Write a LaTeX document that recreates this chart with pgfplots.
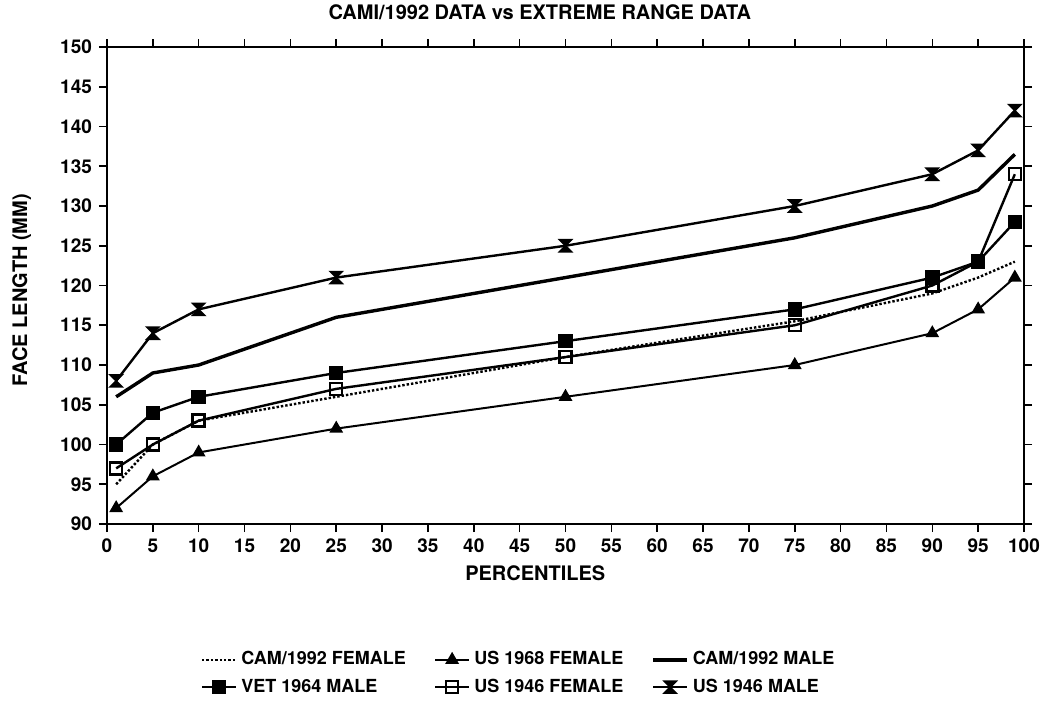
\documentclass[border=0pt]{standalone}
\usepackage{pgfplots}
\pgfplotsset{compat=1.18}
\usepackage{fontspec}
\setmainfont{TeX Gyre Heros}

% hourglass mark for the US 1946 MALE series
\pgfdeclareplotmark{hourglass}{%
  \pgfpathmoveto{\pgfqpoint{-\pgfplotmarksize}{\pgfplotmarksize}}%
  \pgfpathlineto{\pgfqpoint{\pgfplotmarksize}{\pgfplotmarksize}}%
  \pgfpathlineto{\pgfqpoint{-\pgfplotmarksize}{-\pgfplotmarksize}}%
  \pgfpathlineto{\pgfqpoint{\pgfplotmarksize}{-\pgfplotmarksize}}%
  \pgfpathclose
  \pgfusepathqfillstroke
}

\begin{document}
\begin{tikzpicture}
\useasboundingbox (-53.5pt,-89.5pt) rectangle (471pt,262pt);
\begin{axis}[
    scale only axis,
    width=458.5pt, height=238.5pt,
    xmin=0, xmax=100, ymin=90, ymax=150,
    xtick={0,5,...,100}, ytick={90,95,...,150},
    tick align=outside,
    major tick length=4pt,
    axis line style={line width=1.2pt},
    tick style={black, line width=0.8pt},
    /pgf/number format/assume math mode=true,
    ticklabel style={font=\bfseries\fontsize{9.5}{10}\selectfont},
    title={\bfseries CAMI/1992 DATA vs EXTREME RANGE DATA},
    title style={at={(axis description cs:0.472,1)}, anchor=south, yshift=4pt, font=\fontsize{10}{12}\selectfont},
    xlabel={\bfseries PERCENTILES},
    xlabel style={at={(axis description cs:0.467,-0.103)}, anchor=center, font=\fontsize{10}{12}\selectfont},
    ylabel={\bfseries FACE LENGTH (MM)},
    ylabel style={at={(axis description cs:-0.093,0.49)}, anchor=center, font=\fontsize{10}{12}\selectfont},
    legend columns=3,
    legend cell align=left,
    legend style={at={(axis description cs:0.45,-0.25)}, anchor=north, draw=none,
        font=\bfseries\fontsize{9}{11}\selectfont, row sep=1.5pt,
        /tikz/every even column/.append style={column sep=12pt}},
    every axis plot/.append style={black, line width=1.2pt},
]
% CAM/1992 FEMALE
\addplot[densely dotted, line width=1.2pt] coordinates {
    (1,95) (5,100) (10,103) (25,106) (50,111) (75,115.5) (90,119) (95,121) (99,123)
};
\addlegendentry{CAM/1992 FEMALE}
% US 1968 FEMALE
\addplot[mark=triangle*, mark size=3pt, line width=1pt] coordinates {
    (1,92) (5,96) (10,99) (25,102) (50,106) (75,110) (90,114) (95,117) (99,121)
};
\addlegendentry{US 1968 FEMALE}
% CAM/1992 MALE
\addplot[line width=1.7pt] coordinates {
    (1,106) (5,109) (10,110) (25,116) (50,121) (75,126) (90,130) (95,132) (99,136.5)
};
\addlegendentry{CAM/1992 MALE}
% VET 1964 MALE
\addplot[mark=square*, mark size=3pt] coordinates {
    (1,100) (5,104) (10,106) (25,109) (50,113) (75,117) (90,121) (95,123) (99,128)
};
\addlegendentry{VET 1964 MALE}
% US 1946 FEMALE
\addplot[mark=square, mark size=3pt, mark options={fill=white, solid}] coordinates {
    (1,97) (5,100) (10,103) (25,107) (50,111) (75,115) (90,120) (95,123) (99,134)
};
\addlegendentry{US 1946 FEMALE}
% US 1946 MALE
\addplot[mark=hourglass, mark size=3pt, mark options={line width=0.8pt}] coordinates {
    (1,108) (5,114) (10,117) (25,121) (50,125) (75,130) (90,134) (95,137) (99,142)
};
\addlegendentry{US 1946 MALE}
\end{axis}
\end{tikzpicture}
\end{document}
